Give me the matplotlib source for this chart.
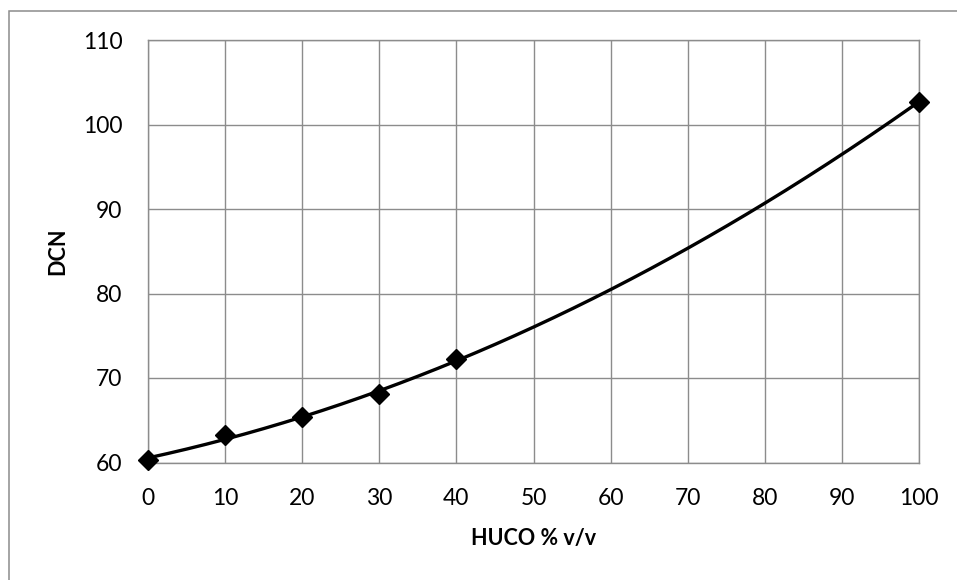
import numpy as np
import matplotlib
matplotlib.use("Agg")
import matplotlib.pyplot as plt
from matplotlib.patches import Rectangle

plt.rcParams['font.family'] = ['Lato', 'DejaVu Sans']

# HUCO blend ratio (% v/v) and measured derived cetane number
huco = [0, 10, 20, 30, 40, 100]
dcn = [60.3, 63.2, 65.4, 68.1, 72.2, 102.7]

x_ticks = list(range(0, 101, 10))
y_ticks = list(range(60, 111, 10))

GRID = '#8c8c8c'

fig = plt.figure(figsize=(9.57, 5.80), dpi=100)
ax = fig.add_axes([148 / 957, 117.5 / 580, 771 / 957, 422.5 / 580])

# second-order polynomial trend through the measurements
coef = np.polyfit(huco, dcn, 2)
xs = np.linspace(min(huco), max(huco), 400)
ax.plot(xs, np.polyval(coef, xs), color='black', lw=2.4, zorder=3,
        solid_capstyle='round', clip_on=False)
ax.plot(huco, dcn, linestyle='none', marker='D', ms=10.5, color='black',
        zorder=4, clip_on=False)

ax.set_xlim(0, 100)
ax.set_ylim(60, 110)
ax.set_xticks(x_ticks)
ax.set_yticks(y_ticks)
ax.grid(True, color=GRID, lw=1.0)
ax.set_axisbelow(True)
for s in ax.spines.values():
    s.set_color(GRID)
    s.set_linewidth(1.0)

ax.tick_params(axis='both', length=0, labelsize=16.5, colors='black')
ax.tick_params(axis='x', pad=18.5)
ax.tick_params(axis='y', pad=18.5)

ax.set_xlabel('HUCO % v/v', fontsize=15.5, fontweight='bold', va='center')
ax.set_ylabel('DCN', fontsize=15.5, fontweight='bold', va='center', ha='center')
ax.xaxis.set_label_coords(0.5, (462.5 - 539) / 422.5)
ax.yaxis.set_label_coords((57.5 - 148) / 771, 0.5)

# chart-area frame
fig.patches.append(Rectangle((8.5 / 957, -0.1), 1.2, 1 - 10.5 / 580 + 0.1,
                             transform=fig.transFigure, fill=False,
                             edgecolor=GRID, lw=1.1))

fig.savefig('out.png', dpi=100)
